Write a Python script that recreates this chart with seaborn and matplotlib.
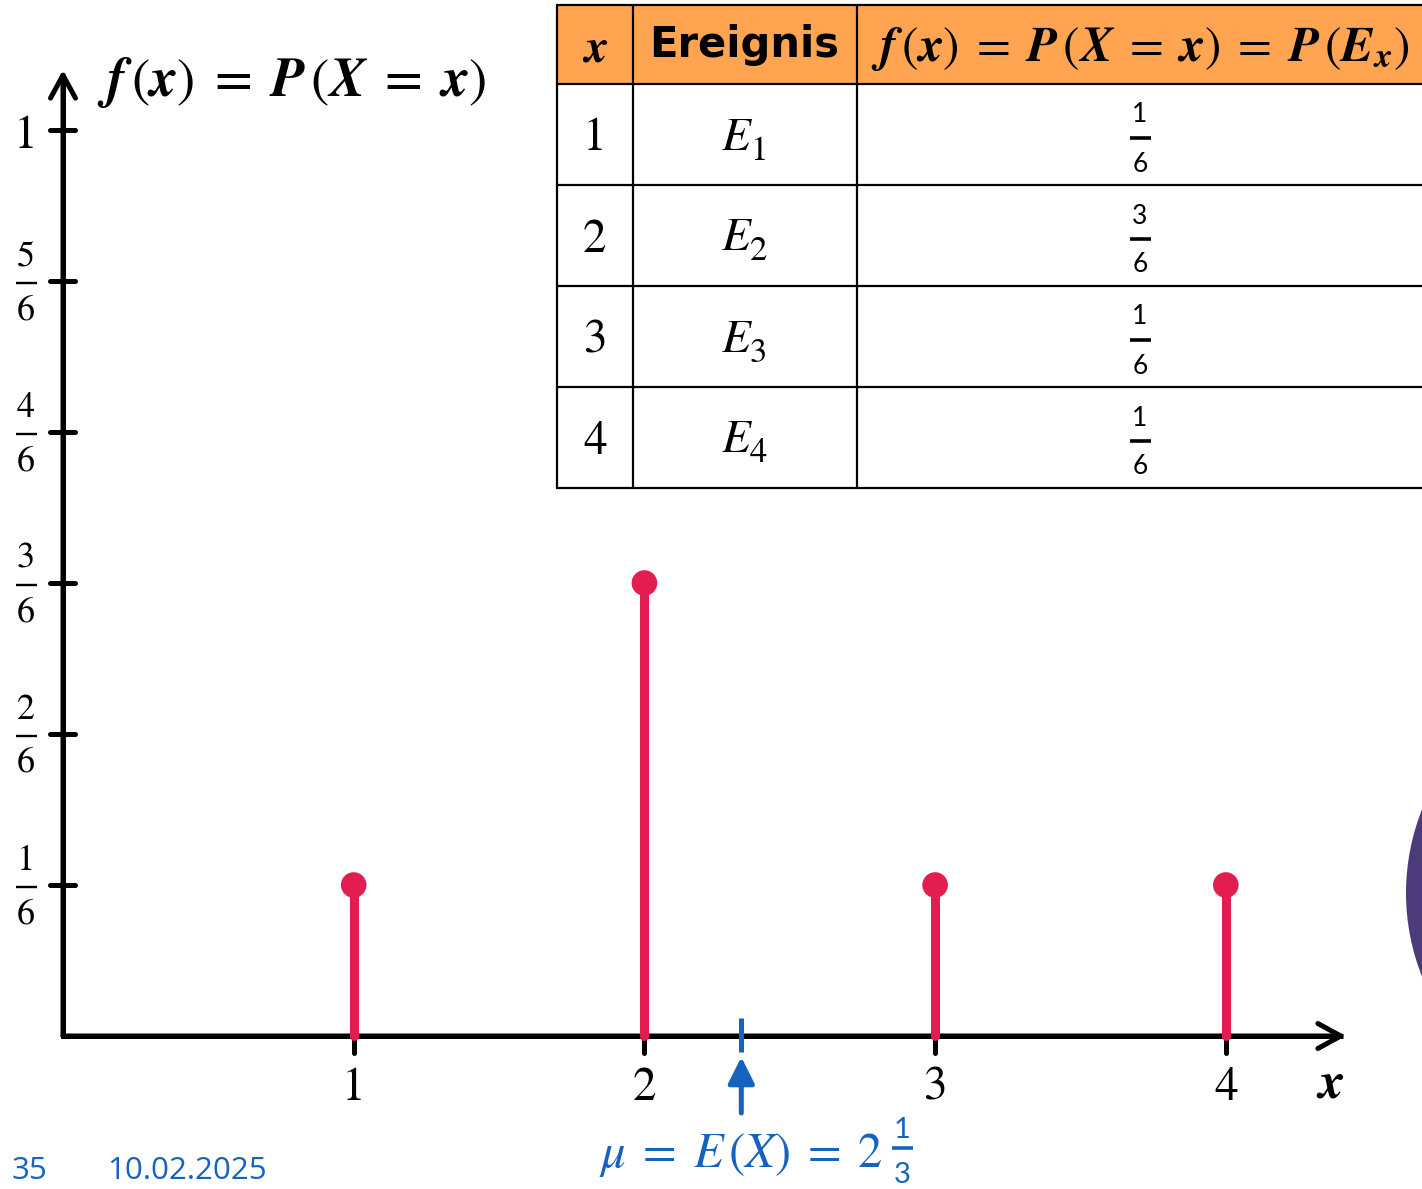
import numpy as np
import pandas as pd
import matplotlib
matplotlib.use("Agg")
import matplotlib.pyplot as plt
from matplotlib.patches import Rectangle, Circle
from fractions import Fraction
import seaborn as sns

# Verteilung der Zufallsgröße X
x_values = [1, 2, 3, 4]
prob_numerators = [1, 3, 1, 1]
prob_denominator = 6
event_indices = ["1", "2", "3", "4"]
y_tick_numerators = [1, 2, 3, 4, 5, 6]
page_number = "35"
date_text = "10.02.2025"

probs = [n / prob_denominator for n in prob_numerators]
df = pd.DataFrame({"x": x_values, "p": probs})
mu_frac = sum(Fraction(x * n, prob_denominator) for x, n in zip(x_values, prob_numerators))
mu = float(mu_frac)
mu_whole = mu_frac.numerator // mu_frac.denominator
mu_rest = mu_frac - mu_whole

RED = "#E31D50"
BLUE = "#1563BF"
ORANGE = "#FFA552"
PURPLE = "#4B3B7B"

sns.set_theme(style="white")
plt.rcParams["mathtext.fontset"] = "stix"
plt.rcParams["font.family"] = ["STIXGeneral", "DejaVu Sans"]
plt.rcParams["text.color"] = "black"

W, H = 1422, 1189
fig = plt.figure(figsize=(W / 100, H / 100), dpi=100)
fig.patch.set_facecolor("white")

# main coordinate system: origin at pixel (63, 1036)
PX, PY = 290.7, 906.0
OX, OY = 63.0, 1036.0
ax = fig.add_axes([0, 0, 1, 1])


def dxp(px):
    return (px - OX) / PX


def dyp(py):
    return (OY - py) / PY


LW = 3.6
X_END = dxp(1346)
Y_END = dyp(70)

# axes with arrow heads
ax.plot([0, 0, X_END - 0.01], [Y_END - 0.01, 0, 0], color="black", lw=LW,
        solid_joinstyle="miter", solid_capstyle="butt", zorder=2)
for tip in [(X_END, 0), (0, Y_END)]:
    ax.annotate("", xy=tip, xytext=(0, 0),
                arrowprops=dict(arrowstyle="->,head_length=0.55,head_width=0.3",
                                mutation_scale=30, lw=LW, color="black",
                                shrinkA=0, shrinkB=0, joinstyle="round",
                                capstyle="round"), zorder=2)

# y ticks and labels
y_ticks = [n / prob_denominator for n in y_tick_numerators]
ax.hlines(y_ticks, dxp(50), dxp(75), color="black", lw=LW, capstyle="round", zorder=2)
LX = dxp(26)
for n, t in zip(y_tick_numerators, y_ticks):
    if n == prob_denominator:
        ax.annotate("1", xy=(LX, t), xytext=(0, -18), textcoords="offset pixels",
                    ha="center", va="baseline", fontsize=34)
    else:
        ax.annotate(str(n), xy=(LX, t), xytext=(0, 15), textcoords="offset pixels",
                    ha="center", va="baseline", fontsize=26)
        ax.annotate(str(prob_denominator), xy=(LX, t), xytext=(0, -38),
                    textcoords="offset pixels", ha="center", va="baseline",
                    fontsize=26)
        ax.plot([dxp(16), dxp(37)], [t - 2 / PY] * 2, color="black", lw=1.7,
                solid_capstyle="butt")

# x ticks and labels
ax.vlines(x_values, -17 / PY, 0, color="black", lw=LW, capstyle="round", zorder=2)
for xv in x_values:
    ax.annotate(str(xv), xy=(xv, 0), xytext=(0, -64), textcoords="offset pixels",
                ha="center", va="baseline", fontsize=34)
ax.annotate(r"$\mathbfit{x}$", xy=(dxp(1330), 0), xytext=(0, -62),
            textcoords="offset pixels", ha="center", va="baseline", fontsize=37)

# title of the y axis
ax.text(dxp(97), dyp(96),
        r"$\mathbfit{f}\,(\mathbfit{x})\;=\;\mathbfit{P}\,(\mathbfit{X}\;=\;\mathbfit{x})$",
        ha="left", va="baseline", fontsize=39.5)

# stems and points of the distribution
ax.vlines(df["x"], 0, df["p"], color=RED, lw=6.5, capstyle="round", zorder=3)
sns.scatterplot(data=df, x="x", y="p", s=340, color=RED, edgecolor="none",
                ax=ax, zorder=4, legend=False)
ax.set_xlim(-OX / PX, (W - OX) / PX)
ax.set_ylim(-(H - OY) / PY, OY / PY)
ax.axis("off")

# expected value marker
ax.vlines(mu, dyp(1052), dyp(1018), color=BLUE, lw=LW, zorder=3)
ax.annotate("", xy=(mu, dyp(1057)), xytext=(mu, dyp(1113)),
            arrowprops=dict(arrowstyle="-|>,head_length=0.8,head_width=0.4",
                            mutation_scale=20, lw=LW, color=BLUE,
                            shrinkA=0, shrinkB=0))
ax.annotate(r"$\mu\;=\;E\,(X)\;=\;%d$" % mu_whole, xy=(mu, 0), xytext=(141, -131),
            textcoords="offset pixels", ha="right", va="baseline",
            fontsize=35, color=BLUE)
ax.annotate(str(mu_rest.numerator), xy=(mu, 0), xytext=(161, -102),
            textcoords="offset pixels", ha="center", va="baseline",
            fontsize=21, color=BLUE, family="Lato")
ax.annotate(str(mu_rest.denominator), xy=(mu, 0), xytext=(161, -147),
            textcoords="offset pixels", ha="center", va="baseline",
            fontsize=21, color=BLUE, family="Lato")
ax.plot([mu + 151 / PX, mu + 172 / PX], [dyp(1148)] * 2, color=BLUE, lw=2.6,
        solid_capstyle="butt")

# overlay in pixel units for table, footer and decoration
ov = fig.add_axes([0, 0, 1, 1])
ov.set_xlim(0, W)
ov.set_ylim(H, 0)
ov.axis("off")
ov.patch.set_alpha(0)

ov.add_patch(Circle((1632, 893), 226, color=PURPLE, lw=0))

col_edges = [557, 633, 857, 1423]
row_top, header_h, row_h = 5, 79, 101
n_rows = len(x_values)
table_bottom = row_top + header_h + n_rows * row_h
ov.add_patch(Rectangle((col_edges[0], row_top), col_edges[-1] - col_edges[0], header_h,
                       facecolor=ORANGE, edgecolor="none"))
for i in range(n_rows + 2):
    yy = row_top + (0 if i == 0 else header_h + (i - 1) * row_h)
    ov.plot([col_edges[0], col_edges[-1]], [yy, yy], color="black", lw=1.6)
for xx in col_edges[:-1]:
    ov.plot([xx, xx], [row_top, table_bottom], color="black", lw=1.6)

cx = [595, 744, 1140]
ov.text(cx[0], 61, r"$\mathbfit{x}$", ha="center", va="baseline", fontsize=34)
ov.text(cx[1], 57, "Ereignis", ha="center", va="baseline", fontsize=30,
        family="DejaVu Sans", weight="bold")
ov.text(cx[2], 61,
        r"$\mathbfit{f}\,(\mathbfit{x})\;=\;\mathbfit{P}\,(\mathbfit{X}\;=\;\mathbfit{x})"
        r"\;=\;\mathbfit{P}\,(\mathbfit{E}_{\mathbfit{x}})$",
        ha="center", va="baseline", fontsize=35.5)

for i, (xv, ei, pn) in enumerate(zip(x_values, event_indices, prob_numerators)):
    rc = row_top + header_h + i * row_h + row_h / 2
    ov.text(cx[0], rc + 16, str(xv), ha="center", va="baseline", fontsize=34)
    # event name: italic E with a large, lowered index
    ov.text(cx[1] + 6, rc + 15, "E", ha="right", va="baseline", fontsize=34,
            style="italic")
    ov.text(cx[1] + 6, rc + 25, ei, ha="left", va="baseline", fontsize=25)
    ov.text(cx[2], rc - 12, str(pn), ha="center", va="baseline", fontsize=19,
            family="Lato")
    ov.text(cx[2], rc + 37, str(prob_denominator), ha="center", va="baseline",
            fontsize=19, family="Lato")
    ov.plot([1130, 1151], [rc + 3, rc + 3], color="black", lw=2.6,
            solid_capstyle="butt")

# footer
ov.text(12, 1179, page_number, ha="left", va="baseline", fontsize=22.5,
        family="Open Sans", color=BLUE)
ov.text(107, 1179, date_text, ha="left", va="baseline", fontsize=22.5,
        family="Open Sans", color=BLUE)

fig.savefig("out.png", dpi=100)
